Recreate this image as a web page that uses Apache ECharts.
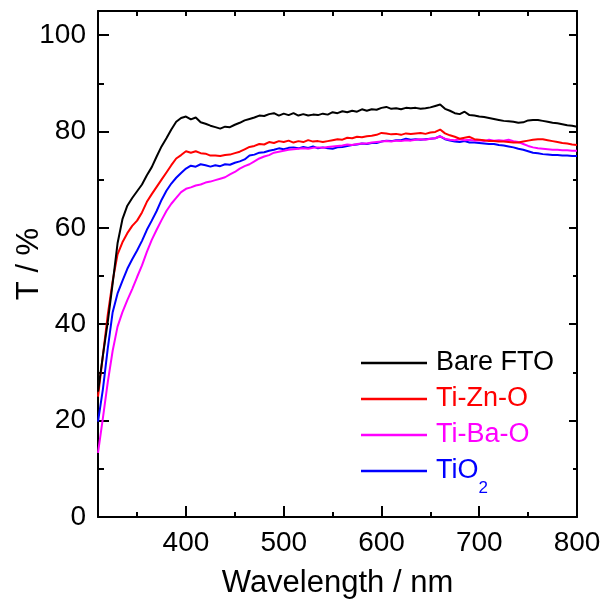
<!DOCTYPE html>
<html>
<head>
<meta charset="utf-8">
<script src="https://cdn.jsdelivr.net/npm/echarts@6/dist/echarts.min.js"></script>
<style>
  html, body { margin: 0; padding: 0; background: #ffffff; }
  #chart { width: 610px; height: 601px; }
</style>
</head>
<body>
<div id="chart"></div>
<script>
// wavelength grid (nm)
var wavelengths = [
  310, 315, 320, 325, 330, 335, 340, 345, 350, 355,
  360, 365, 370, 375, 380, 385, 390, 395, 400, 405,
  410, 415, 420, 425, 430, 435, 440, 445, 450, 455,
  460, 465, 470, 475, 480, 485, 490, 495, 500, 505,
  510, 515, 520, 525, 530, 535, 540, 545, 550, 555,
  560, 565, 570, 575, 580, 585, 590, 595, 600, 605,
  610, 615, 620, 625, 630, 635, 640, 645, 650, 655,
  660, 665, 670, 675, 680, 685, 690, 695, 700, 705,
  710, 715, 720, 725, 730, 735, 740, 745, 750, 755,
  760, 765, 770, 775, 780, 785, 790, 795, 800
];

var bareFTO = [
  26.0, 33.5, 40.5, 48.5, 56.8, 61.8, 64.6, 66.2, 67.6, 69.0,
  70.9, 72.6, 74.8, 76.9, 78.6, 80.4, 82.0, 82.8, 83.1, 82.5,
  82.9, 81.9, 81.6, 81.2, 80.9, 80.6, 81.0, 80.9, 81.4, 81.8,
  82.3, 82.6, 82.9, 83.3, 83.2, 83.6, 83.8, 83.3, 83.7, 83.4,
  83.8, 83.3, 83.6, 83.3, 83.5, 83.4, 83.7, 83.5, 84.0, 83.8,
  84.2, 84.0, 84.3, 84.1, 84.6, 84.3, 84.6, 84.5, 84.9, 85.1,
  84.7, 84.8, 84.6, 84.9, 84.8, 84.9, 84.7, 84.8, 85.0, 85.3,
  85.6, 84.7, 84.3, 83.8, 83.6, 84.1, 83.4, 83.3, 83.1, 83.0,
  82.8, 82.6, 82.4, 82.2, 82.1, 82.0, 81.8, 81.9, 82.3, 82.4,
  82.4, 82.2, 82.0, 81.8, 81.7, 81.5, 81.3, 81.2, 81.0
];

var tiZnO = [
  25.0, 33.5, 42.0, 49.0, 54.5, 57.0, 58.9, 60.4, 61.5, 63.2,
  65.4, 67.0, 68.5, 70.0, 71.5, 73.0, 74.4, 75.1, 75.9, 75.6,
  75.9, 75.5, 75.4, 75.0, 75.0, 74.9, 75.1, 75.2, 75.5, 75.8,
  76.3, 76.8, 77.0, 77.4, 77.3, 77.8, 77.6, 78.0, 77.8, 78.1,
  77.7, 78.0, 77.8, 78.2, 77.9, 78.0, 77.8, 78.0, 78.2, 78.4,
  78.3, 78.7, 78.6, 78.9, 78.8, 79.0, 79.1, 79.3, 79.7, 79.6,
  79.4, 79.5, 79.3, 79.6, 79.5, 79.6, 79.7, 79.5, 79.8, 79.9,
  80.4, 79.6, 79.2, 78.9, 78.5, 78.7, 78.9, 78.4, 78.3, 78.2,
  78.0, 78.0, 77.9, 77.9, 77.8, 77.7, 77.7, 77.9, 78.1, 78.3,
  78.4, 78.4, 78.2, 78.0, 77.8, 77.6, 77.5, 77.3, 77.2
];

var tiBaO = [
  13.3, 20.5, 28.0, 34.5, 39.5, 42.5, 45.0, 47.3, 49.8, 52.2,
  55.0, 57.5, 59.6, 61.6, 63.5, 65.0, 66.2, 67.4, 68.1, 68.4,
  68.8, 69.0, 69.4, 69.6, 69.9, 70.2, 70.5, 71.1, 71.6, 72.3,
  72.8, 73.2, 73.8, 74.4, 74.8, 75.1, 75.6, 75.8, 76.0, 76.2,
  76.3, 76.4, 76.5, 76.4, 76.6, 76.7, 76.6, 76.8, 76.9, 77.0,
  77.1, 77.3, 77.2, 77.4, 77.5, 77.5, 77.7, 77.8, 77.9, 78.0,
  77.9, 78.1, 78.0, 78.2, 78.1, 78.3, 78.4, 78.3, 78.5, 78.6,
  79.0, 78.5, 78.3, 78.2, 78.4, 78.2, 78.3, 78.1, 78.2, 78.0,
  78.3, 78.1, 78.2, 78.1, 78.3, 78.0, 77.8, 77.4, 77.0, 76.7,
  76.5, 76.4, 76.3, 76.2, 76.2, 76.1, 76.1, 76.0, 76.0
];

var tiO2 = [
  19.8, 26.5, 35.0, 42.5, 46.4, 49.0, 51.5, 53.5, 55.3, 57.3,
  59.6, 61.5, 63.5, 65.8, 67.7, 69.2, 70.4, 71.4, 72.3, 72.9,
  72.7, 73.2, 73.0, 72.7, 73.0, 72.8, 73.2, 73.1, 73.5, 73.8,
  74.2, 75.0, 75.2, 75.6, 75.7, 76.0, 76.2, 76.5, 76.3, 76.6,
  76.7, 76.5, 76.8, 76.6, 76.9, 76.5, 76.7, 76.5, 76.4, 76.7,
  76.8, 77.0, 77.2, 77.3, 77.5, 77.4, 77.6, 77.6, 77.9, 78.1,
  78.0, 78.2, 78.2, 78.5, 78.3, 78.4, 78.3, 78.4, 78.5, 78.6,
  79.0, 78.4, 78.1, 77.9, 77.8, 78.0, 77.7, 77.7, 77.6, 77.5,
  77.4, 77.4, 77.2, 77.1, 76.9, 76.7, 76.4, 76.2, 75.9, 75.6,
  75.5, 75.3, 75.2, 75.1, 75.1, 75.0, 75.0, 74.9, 74.9
];

var seriesNames = ['Bare FTO', 'Ti-Zn-O', 'Ti-Ba-O', 'TiO2'];
var colors = ['#000000', '#ff0000', '#ff00ff', '#0000ff'];

var xLabels = [400, 500, 600, 700, 800];
var xMinorTicks = [350, 450, 550, 650, 750];
var xTopTicks = [350, 400, 450, 500, 550, 600, 650, 700, 750];
var yLabels = [0, 20, 40, 60, 80, 100];
var yMinorTicks = [10, 30, 50, 70, 90];

var FONT = '"Liberation Sans", Arial, sans-serif';

function pairs(xs, ys) {
    var out = [];
    for (var i = 0; i < xs.length; i++) {
        out.push([xs[i], ys[i]]);
    }
    return out;
}

// bare axis that only carries ticks (the frame and minor ticks)
function tickAxis(pos, values, len, showLine) {
    var vertical = pos === 'left' || pos === 'right';
    return {
        type: 'value',
        position: pos,
        min: vertical ? 0 : 310,
        max: vertical ? 105 : 800,
        axisLine: { show: showLine, onZero: false, lineStyle: { color: '#000', width: 2 } },
        axisTick: { show: true, inside: true, length: len, customValues: values, lineStyle: { color: '#000', width: 2 } },
        axisLabel: { show: false },
        splitLine: { show: false }
    };
}

var chart = echarts.init(document.getElementById('chart'));

var xMain = tickAxis('bottom', xLabels, 11, true);
xMain.axisLabel = { show: true, customValues: xLabels, fontSize: 28, color: '#000', fontFamily: FONT, margin: 12 };
xMain.name = 'Wavelength / nm';
xMain.nameLocation = 'middle';
xMain.nameGap = 51;
xMain.nameMoveOverlap = false;
xMain.nameTextStyle = { fontSize: 31, color: '#000', fontFamily: FONT };

var yMain = tickAxis('left', yLabels, 11, true);
yMain.axisLabel = { show: true, customValues: yLabels, fontSize: 28, color: '#000', fontFamily: FONT, margin: 12 };
yMain.name = 'T / %';
yMain.nameLocation = 'middle';
yMain.nameGap = 53;
yMain.nameMoveOverlap = false;
yMain.nameTextStyle = { fontSize: 31, color: '#000', fontFamily: FONT };

var order = [3, 2, 1, 0];
var dataSets = [bareFTO, tiZnO, tiBaO, tiO2];
var series = [];
order.forEach(function (k) {
    series.push({
        name: seriesNames[k],
        type: 'line',
        xAxisIndex: 0,
        yAxisIndex: 0,
        showSymbol: false,
        symbol: 'none',
        silent: true,
        color: colors[k],
        lineStyle: { color: colors[k], width: 2 },
        data: pairs(wavelengths, dataSets[k])
    });
});

var option = {
    animation: false,
    backgroundColor: '#ffffff',
    grid: { left: 98, right: 33, top: 11, bottom: 84, containLabel: false, outerBoundsMode: 'none' },
    xAxis: [
        xMain,
        tickAxis('bottom', xMinorTicks, 5, false),
        tickAxis('top', xTopTicks, 5, true)
    ],
    yAxis: [
        yMain,
        tickAxis('left', yMinorTicks, 6, false),
        tickAxis('right', yLabels, 8, true),
        tickAxis('right', yMinorTicks, 4, false)
    ],
    legend: {
        orient: 'vertical',
        left: 361,
        top: 337,
        padding: 0,
        itemGap: -16,
        icon: 'rect',
        itemWidth: 66,
        itemHeight: 2.5,
        selectedMode: false,
        textStyle: {
            fontSize: 27,
            fontFamily: FONT,
            lineHeight: 52,
            padding: [0, 0, 0, 4],
            rich: {
                m: { fontSize: 27, fontFamily: FONT, color: '#0000ff', lineHeight: 52 },
                sub: { fontSize: 17, fontFamily: FONT, color: '#0000ff', lineHeight: 20, verticalAlign: 'bottom' }
            }
        },
        formatter: function (name) {
            return name === 'TiO2' ? '{m|TiO}{sub|2}' : name;
        },
        data: seriesNames.map(function (n, i) {
            return { name: n, textStyle: { color: colors[i] } };
        })
    },
    series: series
};

chart.setOption(option);
</script>
</body>
</html>
